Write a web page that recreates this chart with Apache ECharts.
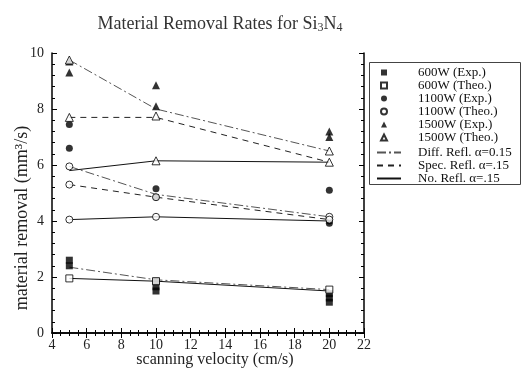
<!DOCTYPE html>
<html><head><meta charset="utf-8">
<script src="https://cdn.jsdelivr.net/npm/echarts@6/dist/echarts.min.js"></script>
<style>html,body{margin:0;padding:0;background:#fff}#c{width:523px;height:368px}</style>
</head><body><div id="c"></div>
<script>
var velocities = [5, 10, 20];
var xTicks = [4, 6, 8, 10, 12, 14, 16, 18, 20, 22];
var yTicks = [0, 2, 4, 6, 8, 10];

var exp600 = [[5,2.6],[5,2.4],[10,1.85],[10,1.65],[10,1.5],[20,1.4],[20,1.25],[20,1.1]];
var theo600 = [[5,1.95],[10,1.85],[20,1.55]];
var exp1100 = [[5,7.45],[5,6.6],[10,5.15],[10,4.85],[20,5.1],[20,4.0],[20,3.92]];
var theo1100 = [[5,5.95],[5,5.3],[5,4.05],[10,4.85],[10,4.15],[20,4.15],[20,4.05]];
var exp1500 = [[5,9.7],[5,9.3],[10,8.85],[10,8.1],[20,7.2],[20,7.0]];
var theo1500 = [[5,9.75],[5,7.7],[10,7.75],[10,6.15],[20,6.5],[20,6.1]];

var diff600 = [2.35, 1.9, 1.55];
var no600 = [1.95, 1.85, 1.5];
var diff1100 = [5.95, 4.95, 4.15];
var spec1100 = [5.3, 4.85, 4.05];
var no1100 = [4.05, 4.15, 4.0];
var diff1500 = [9.75, 8.0, 6.5];
var spec1500 = [7.7, 7.7, 6.1];
var no1500 = [5.8, 6.15, 6.1];

var markerNames = ['600W (Exp.)','600W (Theo.)','1100W (Exp.)','1100W (Theo.)','1500W (Exp.)','1500W (Theo.)'];
var lineNames = ['Diff. Refl. α=0.15','Spec. Refl. α=.15','No. Refl. α=.15'];

var FONT = '"Liberation Serif","DejaVu Serif",serif';
function pts(arr){ return velocities.map(function(v,i){ return [v, arr[i]]; }); }
function scatter(name, data, symbol, filled){
  return {type:'scatter', name:name, data:data, symbol:symbol, symbolSize: symbol==='triangle'?8:7,
    itemStyle:{color: filled?'#000':'#fff', borderColor:'#000', borderWidth: filled?0:1}, z:5};
}
function line(name, arr, type, color){
  return {type:'line', name:name, data:pts(arr), symbol:'none', showSymbol:false,
    lineStyle:{color:color, width:1, type:type}, itemStyle:{color:color}, z:3};
}
var DASHDOT = [9,3,2,3];
var series = [
  scatter(markerNames[0], exp600, 'rect', true),
  scatter(markerNames[1], theo600, 'rect', false),
  scatter(markerNames[2], exp1100, 'circle', true),
  scatter(markerNames[3], theo1100, 'circle', false),
  scatter(markerNames[4], exp1500, 'triangle', true),
  scatter(markerNames[5], theo1500, 'triangle', false),
  line(lineNames[0], diff600, DASHDOT, '#555'),
  line(lineNames[0], diff1100, DASHDOT, '#555'),
  line(lineNames[0], diff1500, DASHDOT, '#555'),
  line(lineNames[1], spec1100, [6,5], '#222'),
  line(lineNames[1], spec1500, [6,5], '#222'),
  line(lineNames[2], no600, 'solid', '#111'),
  line(lineNames[2], no1100, 'solid', '#111'),
  line(lineNames[2], no1500, 'solid', '#111')
];

function axisCommon(show){
  return {
    axisLine:{show:true, lineStyle:{color:'#000', width:1.5}},
    axisTick:{show:true, inside:true, length:5, lineStyle:{color:'#000'}},
    minorTick:{show:true, splitNumber:4, length:3, lineStyle:{color:'#000'}},
    splitLine:{show:false},
    axisLabel:{show:show, color:'#222', fontFamily:FONT, fontSize:14}
  };
}
var xb = Object.assign(axisCommon(true), {type:'value', position:'bottom', min:xTicks[0], max:xTicks[xTicks.length-1], interval:2});
xb.axisLabel.margin = 5;
var xt = Object.assign(axisCommon(false), {type:'value', position:'top', min:xTicks[0], max:xTicks[xTicks.length-1], interval:2});
var yl = Object.assign(axisCommon(true), {type:'value', position:'left', min:yTicks[0], max:yTicks[yTicks.length-1], interval:2});
yl.minorTick.splitNumber = 5;
var yr = Object.assign(axisCommon(false), {type:'value', position:'right', min:yTicks[0], max:yTicks[yTicks.length-1], interval:2});
yr.minorTick.splitNumber = 5;

var legendText = {fontFamily:FONT, fontSize:13, color:'#111', lineHeight:12.5};
var chart = echarts.init(document.getElementById('c'), null, {renderer:'canvas'});
chart.setOption({
  animation:false,
  backgroundColor:'#fff',
  title:{text:'{t|Material Removal Rates for Si}{s|3}{t|N}{s|4}', left:215, top:10, textAlign:'center',
    textStyle:{fontWeight:'normal', rich:{t:{fontFamily:FONT, fontSize:18, color:'#333'}, s:{fontFamily:FONT, fontSize:12, color:'#333', padding:[7,0,0,0]}}}},
  grid:{left:52, right:159, top:53, bottom:35, containLabel:false, outerBoundsMode:'none'},
  xAxis:[xb, xt],
  yAxis:[yl, yr],
  legend:[
    {orient:'vertical', left:380, top:66, itemWidth:6, itemHeight:6, itemGap:0, padding:0,
     textStyle:Object.assign({padding:[0,0,0,26]}, legendText), data:markerNames},
    {orient:'vertical', left:376, top:146, itemWidth:24, itemHeight:8, itemGap:0, padding:0,
     itemStyle:{opacity:0},
     textStyle:Object.assign({padding:[0,0,0,12]}, legendText), data:lineNames}
  ],
  graphic:[
    {type:'rect', shape:{x:369.5, y:62.5, width:151, height:122}, style:{fill:null, stroke:'#444', lineWidth:1}, silent:true},
    {type:'text', x:22, y:218, rotation:Math.PI/2, style:{text:'material removal (mm³/s)', font:'18px ' + FONT, fill:'#222', align:'center', verticalAlign:'middle'}, silent:true},
    {type:'text', x:215, y:360, style:{text:'scanning velocity (cm/s)', font:'16px ' + FONT, fill:'#222', align:'center', verticalAlign:'middle'}, silent:true}
  ],
  series: series
});
</script></body></html>
